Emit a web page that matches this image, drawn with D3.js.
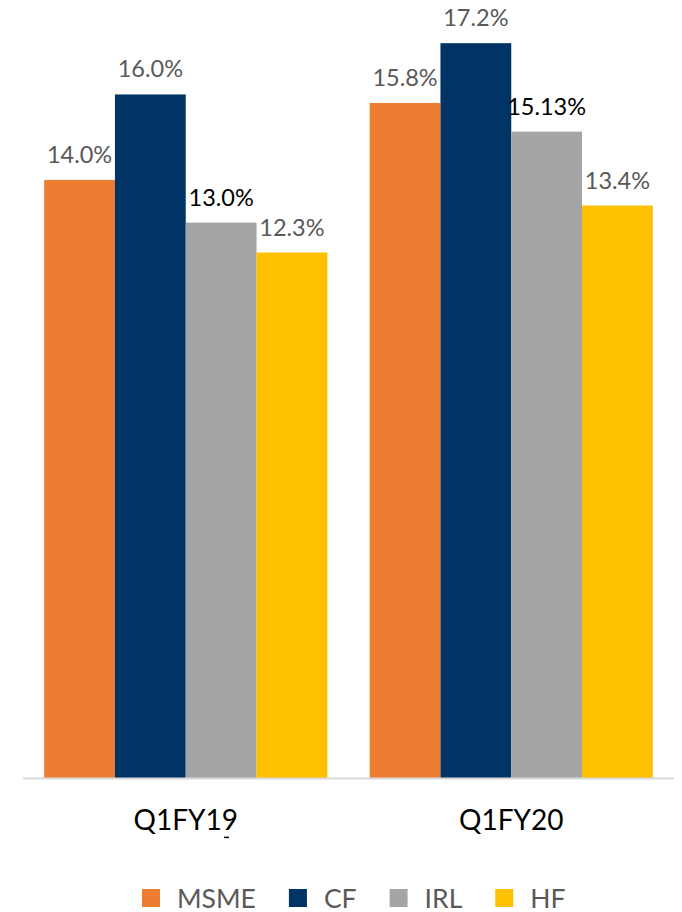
<!DOCTYPE html>
<html><head><meta charset="utf-8">
<script src="https://cdn.jsdelivr.net/npm/d3@7/dist/d3.min.js"></script>
<style>html,body{margin:0;padding:0;background:#fff;}svg{display:block;}</style>
</head><body><svg id="chart" width="682" height="912"></svg>
<script>
const categories = ["Q1FY19", "Q1FY20"];
const seriesNames = ["MSME", "CF", "IRL", "HF"];
const MSME = [14.0, 15.8];
const CF = [16.0, 17.2];
const IRL = [13.0, 15.13];
const HF = [12.3, 13.4];
const labelText = {MSME: ["14.0%", "15.8%"], CF: ["16.0%", "17.2%"], IRL: ["13.0%", "15.13%"], HF: ["12.3%", "13.4%"]};
const seriesValues = {MSME, CF, IRL, HF};
const colors = {MSME: "#ED7D31", CF: "#003366", IRL: "#A5A5A5", HF: "#FFC000"};
const labelColors = {MSME: "#595959", CF: "#595959", IRL: "#000000", HF: "#595959"};

const svg = d3.select("#chart");
const font = "Lato, 'Open Sans', sans-serif";

const x0 = d3.scaleBand().domain(categories).range([23, 674]).paddingInner(0.13).paddingOuter(0.065);
const x1 = d3.scaleBand().domain(seriesNames).range([0, x0.bandwidth()]);
const y = d3.scaleLinear().domain([0, 18]).range([778, 9]);

const groups = svg.selectAll("g.grp").data(categories).enter().append("g")
  .attr("transform", d => `translate(${x0(d)},0)`);

groups.each(function(cat, ci) {
  const g = d3.select(this);
  seriesNames.forEach(s => {
    const v = seriesValues[s][ci];
    g.append("rect")
      .attr("x", x1(s)).attr("y", y(v))
      .attr("width", x1.bandwidth()).attr("height", y(0) - y(v))
      .attr("fill", colors[s]);
    g.append("text")
      .attr("x", x1(s) + x1.bandwidth() / 2).attr("y", y(v) - 17)
      .attr("text-anchor", "middle")
      .attr("font-family", font).attr("font-size", 23.5)
      .attr("fill", labelColors[s])
      .text(labelText[s][ci]);
  });
});

// axis
const xAxis = d3.axisBottom(x0).tickSize(0).tickPadding(32);
const ax = svg.append("g").attr("transform", `translate(0,${y(0)})`).call(xAxis);
ax.select(".domain").attr("stroke", "#d9d9d9").attr("stroke-width", 2).attr("d", `M23,0.5H674`);
ax.selectAll("text").attr("font-family", font).attr("font-size", 28).attr("fill", "#000");

// small spell-check mark under "9"
ax.selectAll(".tick text").filter(d => d === "Q1FY19").each(function() {
  const bb = this.getBBox();
  const t = d3.select(this.parentNode);
  t.append("line").attr("x1", bb.x + bb.width - 14).attr("x2", bb.x + bb.width - 9)
    .attr("y1", bb.y + bb.height + 1.5).attr("y2", bb.y + bb.height + 1.5)
    .attr("stroke", "#000").attr("stroke-width", 1.5);
});

// legend
const legend = svg.append("g").attr("transform", "translate(142,889)");
let lx = 0;
seriesNames.forEach(s => {
  const it = legend.append("g").attr("transform", `translate(${lx},0)`);
  it.append("rect").attr("width", 18).attr("height", 18).attr("fill", colors[s]);
  const t = it.append("text").attr("x", 35).attr("y", 18.5)
    .attr("font-family", font).attr("font-size", 26.5).attr("fill", "#595959").text(s);
  lx += 35 + t.node().getComputedTextLength() + 33;
});
</script></body></html>
